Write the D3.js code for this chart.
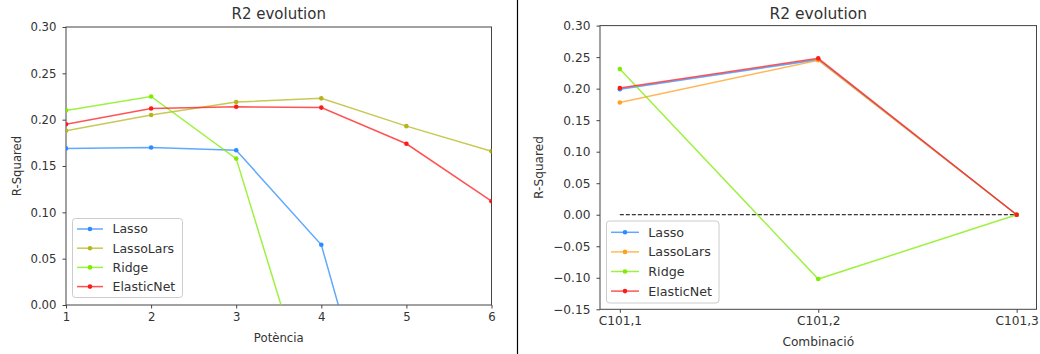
<!DOCTYPE html>
<html>
<head>
<meta charset="utf-8">
<script src="https://cdn.jsdelivr.net/npm/d3@7"></script>
<style>
  body { margin: 0; background: #fff; }
  svg text { font-family: "DejaVu Sans", sans-serif; fill: #333; }
</style>
</head>
<body>
<svg class="chart" width="1040" height="354"></svg>
<script>
// left chart: R2 by polynomial power
var powers = [1, 2, 3, 4, 5, 6];
var lassoPow      = [0.169, 0.170, 0.167, 0.065, -0.26, -0.55];
var lassoLarsPow  = [0.188, 0.205, 0.219, 0.223, 0.193, 0.166];
var ridgePow      = [0.210, 0.225, 0.158, -0.142, -0.45, -0.75];
var elasticNetPow = [0.195, 0.212, 0.214, 0.213, 0.174, 0.112];

// right chart: R2 by combination
var combos = ["C101,1", "C101,2", "C101,3"];
var lassoComb      = [0.199, 0.246, 0.0];
var lassoLarsComb  = [0.178, 0.245, 0.0];
var ridgeComb      = [0.231, -0.102, 0.0];
var elasticNetComb = [0.201, 0.248, 0.0];

var modelNames = ["Lasso", "LassoLars", "Ridge", "ElasticNet"];
var yTicksLeft  = [0, 0.05, 0.10, 0.15, 0.20, 0.25, 0.30];
var yTicksRight = [-0.15, -0.10, -0.05, 0, 0.05, 0.10, 0.15, 0.20, 0.25, 0.30];

var svg = d3.select(".chart");
var fmt = d3.format(".2f");

function drawChart(opt) {
  var x = opt.x, y = opt.y;
  var x0 = x.range()[0], x1 = x.range()[1];
  var y0 = y.range()[0], y1 = y.range()[1];
  var g = svg.append("g");

  g.append("clipPath").attr("id", opt.id)
    .append("rect")
    .attr("x", x0).attr("y", y1)
    .attr("width", x1 - x0).attr("height", y0 - y1);

  // axes
  var xAxis = d3.axisBottom(x).tickValues(opt.xTicks).tickFormat(opt.xFormat)
    .tickSizeOuter(0).tickSize(3.5).tickPadding(4);
  var yAxis = d3.axisLeft(y).tickValues(opt.yTicks).tickFormat(fmt)
    .tickSizeOuter(0).tickSize(3.5).tickPadding(6);

  var gx = g.append("g").attr("transform", "translate(0," + y0 + ")").call(xAxis);
  var gy = g.append("g").attr("transform", "translate(" + x0 + ",0)").call(yAxis);
  [gx, gy].forEach(function(a) {
    a.select(".domain").remove();
    a.selectAll("line").attr("stroke", "#444");
    a.selectAll("text").style("font-size", opt.fs + "px").attr("fill", "#333");
  });

  // frame
  g.append("rect")
    .attr("x", x0).attr("y", y1)
    .attr("width", x1 - x0).attr("height", y0 - y1)
    .attr("fill", "none").attr("stroke", "#444").attr("stroke-width", 1);

  var plot = g.append("g").attr("clip-path", "url(#" + opt.id + ")");

  if (opt.zeroLine) {
    plot.append("line")
      .attr("x1", x(opt.xs[0])).attr("x2", x(opt.xs[opt.xs.length - 1]))
      .attr("y1", y(0)).attr("y2", y(0))
      .attr("stroke", "#000").attr("stroke-dasharray", "4,2").attr("stroke-width", 1);
  }

  var line = d3.line()
    .x(function(d, i) { return x(opt.xs[i]); })
    .y(function(d) { return y(d); });

  opt.series.forEach(function(s, k) {
    plot.append("path")
      .datum(s)
      .attr("d", line)
      .attr("fill", "none")
      .attr("stroke", opt.colors[k])
      .attr("stroke-opacity", 0.75)
      .attr("stroke-width", 1.5);
    plot.selectAll(null)
      .data(s)
      .enter().append("circle")
      .attr("cx", function(d, i) { return x(opt.xs[i]); })
      .attr("cy", function(d) { return y(d); })
      .attr("r", 2.3)
      .attr("fill", opt.colors[k]);
  });

  // title and labels
  g.append("text")
    .attr("x", (x0 + x1) / 2).attr("y", 19)
    .attr("text-anchor", "middle")
    .style("font-size", opt.titleFs + "px")
    .text("R2 evolution");

  g.append("text")
    .attr("x", (x0 + x1) / 2).attr("y", opt.xLabelY)
    .attr("text-anchor", "middle")
    .style("font-size", opt.fs + "px")
    .text(opt.xLabel);

  g.append("text")
    .attr("transform", "translate(" + opt.yLabelX + "," + (y0 + y1) / 2 + ") rotate(-90)")
    .attr("text-anchor", "middle")
    .style("font-size", opt.fs + "px")
    .text("R-Squared");

  // legend
  var L = opt.legend;
  g.append("rect")
    .attr("x", L.x).attr("y", L.y)
    .attr("width", L.w).attr("height", L.h)
    .attr("rx", 3)
    .attr("fill", "#fff").attr("fill-opacity", 0.8)
    .attr("stroke", "#ccc");

  var item = g.selectAll(null)
    .data(modelNames)
    .enter().append("g")
    .attr("transform", function(d, i) { return "translate(0," + (L.y0 + i * L.step) + ")"; });

  item.append("line")
    .attr("x1", L.sx0).attr("x2", L.sx1)
    .attr("stroke", function(d, i) { return opt.colors[i]; })
    .attr("stroke-opacity", 0.75)
    .attr("stroke-width", 1.5);
  item.append("circle")
    .attr("cx", (L.sx0 + L.sx1) / 2)
    .attr("r", 2.3)
    .attr("fill", function(d, i) { return opt.colors[i]; });
  item.append("text")
    .attr("x", L.tx)
    .attr("dy", "0.35em")
    .style("font-size", opt.legendFs + "px")
    .text(function(d) { return d; });
}

drawChart({
  id: "clipLeft",
  x: d3.scaleLinear().domain([1, 6]).range([66, 491.5]),
  y: d3.scaleLinear().domain([0, 0.30]).range([305, 27]),
  xs: powers,
  xTicks: powers,
  xFormat: d3.format("d"),
  yTicks: yTicksLeft,
  series: [lassoPow, lassoLarsPow, ridgePow, elasticNetPow],
  colors: ["#2b8cff", "#b5b51c", "#7ced00", "#ff1a1a"],
  fs: 11.7, titleFs: 15, legendFs: 12.5,
  xLabel: "Potència", xLabelY: 341.5,
  yLabelX: 21,
  legend: { x: 72.5, y: 218.5, w: 110, h: 79, y0: 229, step: 19.2, sx0: 77, sx1: 103, tx: 112.5 }
});

drawChart({
  id: "clipRight",
  x: d3.scaleLinear().domain([-0.1, 2.1]).range([600, 1036.5]),
  y: d3.scaleLinear().domain([-0.15, 0.30]).range([309.3, 25.6]),
  xs: [0, 1, 2],
  xTicks: [0, 1, 2],
  xFormat: function(i) { return combos[i]; },
  yTicks: yTicksRight,
  series: [lassoComb, lassoLarsComb, ridgeComb, elasticNetComb],
  colors: ["#2b8cff", "#ffa020", "#7ced00", "#ff1a1a"],
  zeroLine: true,
  fs: 12.2, titleFs: 15.5, legendFs: 12.7,
  xLabel: "Combinació", xLabelY: 346,
  yLabelX: 543,
  legend: { x: 606.5, y: 221, w: 112.5, h: 82, y0: 232.3, step: 19.6, sx0: 611, sx1: 639, tx: 648.3 }
});

// separator between the two panels
svg.append("line")
  .attr("x1", 517.5).attr("x2", 517.5)
  .attr("y1", 0).attr("y2", 354)
  .attr("stroke", "#000").attr("stroke-width", 1.2);
</script>
</body>
</html>
